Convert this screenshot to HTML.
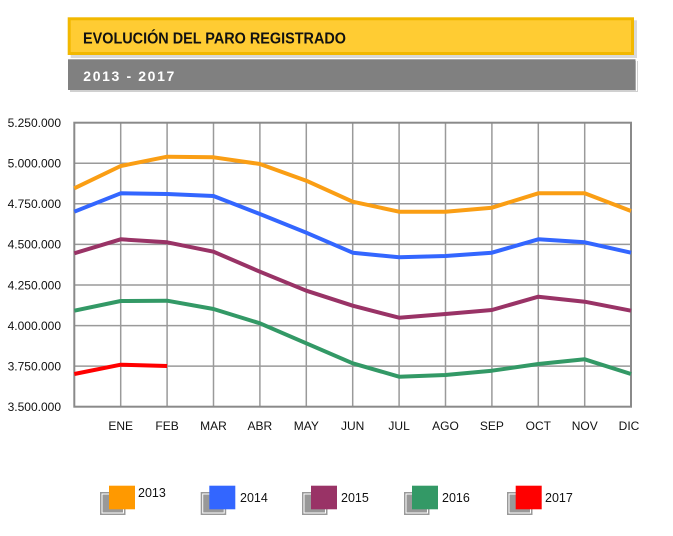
<!DOCTYPE html>
<html><head><meta charset="utf-8"><style>
html,body{margin:0;padding:0;background:#fff;}
svg{display:block;}
text{font-family:"Liberation Sans",Arial,sans-serif;}
</style></head><body>
<svg width="673" height="536" viewBox="0 0 673 536" xmlns="http://www.w3.org/2000/svg">
<!-- header yellow -->
<rect x="70.7" y="20.3" width="566.3" height="37.7" fill="#d9d9d9"/>
<rect x="69.2" y="18.8" width="563.3" height="34.7" fill="#FFCC33" stroke="#F2B800" stroke-width="3"/>
<text x="83" y="43.5" font-size="16" font-weight="bold" fill="#111" textLength="263" lengthAdjust="spacingAndGlyphs">EVOLUCIÓN DEL PARO REGISTRADO</text>
<!-- header gray -->
<rect x="70" y="61" width="568" height="31" fill="#d0d0d0"/>
<rect x="68" y="59.3" width="567.5" height="30.7" fill="#808080"/>
<line x1="636.5" y1="60" x2="636.5" y2="91" stroke="#fff" stroke-width="1"/>
<text x="83.3" y="81" font-size="14" font-weight="bold" fill="#fff" textLength="91" lengthAdjust="spacing">2013 - 2017</text>

<!-- grid -->
<g stroke="#9a9a9a" stroke-width="1.5">
<line x1="74.3" y1="163.3" x2="631" y2="163.3"/>
<line x1="74.3" y1="203.8" x2="631" y2="203.8"/>
<line x1="74.3" y1="244.4" x2="631" y2="244.4"/>
<line x1="74.3" y1="285" x2="631" y2="285"/>
<line x1="74.3" y1="325.6" x2="631" y2="325.6"/>
<line x1="74.3" y1="366.1" x2="631" y2="366.1"/>
<line x1="120.7" y1="122.7" x2="120.7" y2="406.7"/>
<line x1="167.1" y1="122.7" x2="167.1" y2="406.7"/>
<line x1="213.5" y1="122.7" x2="213.5" y2="406.7"/>
<line x1="259.9" y1="122.7" x2="259.9" y2="406.7"/>
<line x1="306.3" y1="122.7" x2="306.3" y2="406.7"/>
<line x1="352.7" y1="122.7" x2="352.7" y2="406.7"/>
<line x1="399.1" y1="122.7" x2="399.1" y2="406.7"/>
<line x1="445.5" y1="122.7" x2="445.5" y2="406.7"/>
<line x1="491.9" y1="122.7" x2="491.9" y2="406.7"/>
<line x1="538.3" y1="122.7" x2="538.3" y2="406.7"/>
<line x1="584.7" y1="122.7" x2="584.7" y2="406.7"/>
</g>
<rect x="74.3" y="122.7" width="556.7" height="284" fill="none" stroke="#8a8a8a" stroke-width="2"/>

<!-- y labels -->
<g font-size="12" fill="#111" text-anchor="end">
<text x="61" y="127">5.250.000</text>
<text x="61" y="167.6">5.000.000</text>
<text x="61" y="208.1">4.750.000</text>
<text x="61" y="248.7">4.500.000</text>
<text x="61" y="289.3">4.250.000</text>
<text x="61" y="329.9">4.000.000</text>
<text x="61" y="370.4">3.750.000</text>
<text x="61" y="411">3.500.000</text>
</g>
<!-- x labels -->
<g font-size="12" fill="#111" text-anchor="middle">
<text x="120.7" y="430">ENE</text>
<text x="167.1" y="430">FEB</text>
<text x="213.5" y="430">MAR</text>
<text x="259.9" y="430">ABR</text>
<text x="306.3" y="430">MAY</text>
<text x="352.7" y="430">JUN</text>
<text x="399.1" y="430">JUL</text>
<text x="445.5" y="430">AGO</text>
<text x="491.9" y="430">SEP</text>
<text x="538.3" y="430">OCT</text>
<text x="584.7" y="430">NOV</text>
<text x="629" y="430">DIC</text>
</g>

<!-- series -->
<g fill="none" stroke-width="4" stroke-linejoin="round">
<polyline stroke="#FA9E14" points="74.3,188.3 120.7,166 167.1,156.7 213.5,157.3 259.9,164 306.3,180.7 352.7,201.7 399.1,211.7 445.5,211.7 491.9,207.7 538.3,193.3 584.7,193.3 631,211"/>
<polyline stroke="#3366FF" points="74.3,211.7 120.7,193.3 167.1,194 213.5,196 259.9,214 306.3,232.7 352.7,252.7 399.1,257.3 445.5,256 491.9,252.7 538.3,239.3 584.7,242.3 631,252.7"/>
<polyline stroke="#993366" points="74.3,253.3 120.7,239.3 167.1,242.3 213.5,251.7 259.9,271.7 306.3,290.7 352.7,305.7 399.1,317.7 445.5,314 491.9,310 538.3,296.7 584.7,301.7 631,310.7"/>
<polyline stroke="#339966" points="74.3,310.7 120.7,301 167.1,300.7 213.5,309 259.9,323.3 306.3,343.3 352.7,363.3 399.1,376.7 445.5,375 491.9,370.7 538.3,364 584.7,359.3 631,374"/>
<polyline stroke="#FF0000" points="74.3,374 120.7,364.7 167.1,366"/>
</g>

<!-- legend -->
<g>
<rect x="100" y="492" width="25.5" height="23" fill="#999"/>
<rect x="102" y="494" width="21.5" height="19" fill="none" stroke="#fff" stroke-width="1"/>
<rect x="109" y="485.7" width="26" height="23.6" fill="#FF9900"/>
<text x="138" y="497" font-size="12.5" fill="#111">2013</text>

<rect x="200.7" y="492" width="25.5" height="23" fill="#999"/>
<rect x="202.7" y="494" width="21.5" height="19" fill="none" stroke="#fff" stroke-width="1"/>
<rect x="209.3" y="485.7" width="26" height="23.6" fill="#3366FF"/>
<text x="240" y="502" font-size="12.5" fill="#111">2014</text>

<rect x="302" y="492" width="25.5" height="23" fill="#999"/>
<rect x="304" y="494" width="21.5" height="19" fill="none" stroke="#fff" stroke-width="1"/>
<rect x="311" y="485.7" width="26" height="23.6" fill="#993366"/>
<text x="341" y="502" font-size="12.5" fill="#111">2015</text>

<rect x="404" y="492" width="25.5" height="23" fill="#999"/>
<rect x="406" y="494" width="21.5" height="19" fill="none" stroke="#fff" stroke-width="1"/>
<rect x="412" y="485.7" width="26" height="23.6" fill="#339966"/>
<text x="442" y="502" font-size="12.5" fill="#111">2016</text>

<rect x="507" y="492" width="25.5" height="23" fill="#999"/>
<rect x="509" y="494" width="21.5" height="19" fill="none" stroke="#fff" stroke-width="1"/>
<rect x="515.7" y="485.7" width="26" height="23.6" fill="#FF0000"/>
<text x="545" y="502" font-size="12.5" fill="#111">2017</text>
</g>
</svg>
</body></html>
